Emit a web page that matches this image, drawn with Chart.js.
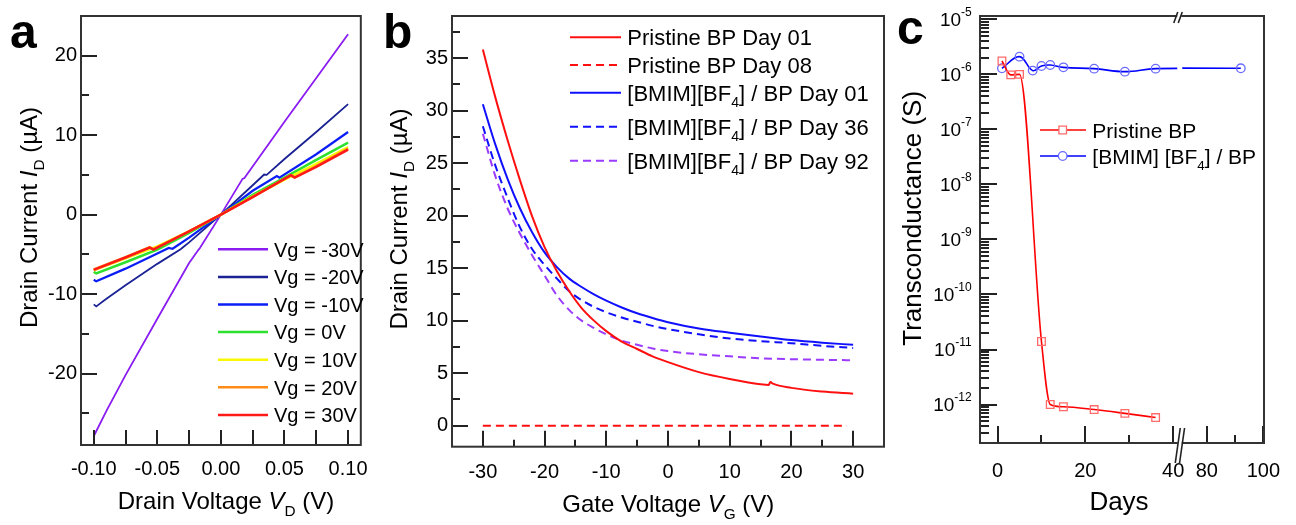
<!DOCTYPE html>
<html>
<head>
<meta charset="utf-8">
<script src="https://cdn.jsdelivr.net/npm/chart.js@4"></script>
<style>
  html, body { margin: 0; background: #fff; }
  #wrap { position: relative; width: 1296px; height: 525px; }
  canvas { position: absolute; top: 0; }
</style>
</head>
<body>
<div id="wrap">
  <canvas id="panel-a" width="380" height="525" style="left:0"></canvas>
  <canvas id="panel-b" width="510" height="525" style="left:380px"></canvas>
  <canvas id="panel-c" width="406" height="525" style="left:890px"></canvas>
</div>
<script>
// ---- (a) output curves: [drain voltage V, drain current uA]
const vgLabels = ['Vg = -30V', 'Vg = -20V', 'Vg = -10V', 'Vg = 0V', 'Vg = 10V', 'Vg = 20V', 'Vg = 30V'];
const idVgM30 = [[-0.1,-27.9],[-0.09,-24.7],[-0.075,-20.2],[-0.05,-13.1],[-0.025,-6.1],[-0.0175,-4.4],[-0.0165,-4.2],[0,0],[0.017,4.5],[0.0185,4.6],[0.05,11.7],[0.075,17.2],[0.1,22.7]];
const idVgM20 = [[-0.1,-11.3],[-0.098,-11.55],[-0.09,-10.6],[-0.075,-8.9],[-0.05,-6.2],[-0.032,-4.4],[-0.0305,-4.2],[-0.025,-3.5],[0,0],[0.025,3.7],[0.034,5.05],[0.036,5.0],[0.05,7.0],[0.075,10.4],[0.1,13.9]];
const idVgM10 = [[-0.1,-8.2],[-0.098,-8.4],[-0.075,-6.8],[-0.05,-4.9],[-0.041,-4.2],[-0.038,-4.3],[-0.025,-2.9],[0,0],[0.025,3.0],[0.044,4.85],[0.046,4.65],[0.075,7.6],[0.1,10.4]];
const idVg0 = [[-0.1,-7.2],[-0.098,-7.4],[-0.075,-6.0],[-0.05,-4.4],[-0.025,-2.3],[0,0],[0.025,2.5],[0.05,4.65],[0.075,6.9],[0.1,9.05]];
const idVg10 = [[-0.1,-7.0],[-0.075,-5.5],[-0.05,-4.0],[-0.025,-2.1],[0,0],[0.025,2.3],[0.05,4.4],[0.075,6.4],[0.1,8.5]];
const idVg20 = [[-0.1,-6.9],[-0.075,-5.35],[-0.056,-4.1],[-0.053,-4.35],[-0.025,-2.1],[0,0],[0.025,2.25],[0.055,4.95],[0.058,4.7],[0.075,6.1],[0.1,8.3]];
const idVg30 = [[-0.1,-6.95],[-0.075,-5.4],[-0.056,-4.15],[-0.053,-4.4],[-0.025,-2.1],[0,0],[0.025,2.2],[0.055,4.95],[0.058,4.65],[0.075,6.0],[0.1,8.17]];
const outputCurves = [idVgM30, idVgM20, idVgM10, idVg0, idVg10, idVg20, idVg30];
const vdTicks = [-0.1, -0.05, 0, 0.05, 0.1];
const idTicksA = [-20, -10, 0, 10, 20];

// ---- (b) transfer curves: gate voltage V, drain current uA
const gateV = [-30,-28,-26,-24,-22,-20,-18,-16,-14,-12,-10,-7.5,-5,-2.5,0,5,10,15,20,25,30];
const bmimDay01 = [30.6,26.8,23.5,20.7,18.4,16.5,15.1,14.0,13.2,12.5,11.9,11.25,10.7,10.25,9.85,9.25,8.85,8.5,8.15,7.9,7.7];
const bmimDay36 = [28.5,24.8,21.7,18.9,16.8,15.3,14.0,12.8,11.95,11.3,10.8,10.3,9.9,9.5,9.2,8.7,8.3,8.05,7.85,7.6,7.4];
const bmimDay92 = [27.8,23.8,20.7,18.3,16.2,14.3,12.4,11.0,10.0,9.3,8.7,8.1,7.7,7.35,7.1,6.8,6.6,6.42,6.33,6.27,6.23];
const pristineDay01 = [[-30,35.8],[-28,31.3],[-26,27.2],[-24,23.4],[-22,19.9],[-20,17.0],[-18,14.7],[-16,12.8],[-14,11.2],[-12,10.0],[-10,9.0],[-7.5,8.0],[-5,7.3],[-2.5,6.6],[0,6.05],[5,5.1],[10,4.45],[16.3,3.88],[16.6,4.15],[17,4.0],[20,3.6],[25,3.25],[30,3.05]];
const pristineDay08 = [[-30,0],[29,0]];
const vgTicksB = [-30, -20, -10, 0, 10, 20, 30];
const idTicksB = [0, 5, 10, 15, 20, 25, 30, 35];
const bLegend = [
  [['Pristine BP Day 01','n']],
  [['Pristine BP Day 08','n']],
  [['[BMIM][BF','n'],['4','sub'],['] / BP Day 01','n']],
  [['[BMIM][BF','n'],['4','sub'],['] / BP Day 36','n']],
  [['[BMIM][BF','n'],['4','sub'],['] / BP Day 92','n']]
];

// ---- (c) transconductance vs days (axis broken between 41.5 and 70.3)
const pristineDays = [1,3,5,10,12,15,22,29,36];
const pristineGm = [1.75e-6,0.98e-6,1.0e-6,1.4e-11,1.0e-12,0.91e-12,0.81e-12,0.69e-12,0.58e-12];
const bmimDays = [1,5,8,10,12,15,22,29,36,92];
const bmimGm = [1.29e-6,2.1e-6,1.17e-6,1.42e-6,1.48e-6,1.34e-6,1.27e-6,1.12e-6,1.27e-6,1.29e-6];
const gmDecades = [-12,-11,-10,-9,-8,-7,-6,-5];
const dayBreak = [41.5, 70.3];
const dayLabelsLow = [0, 20, 40];
const dayLabelsHigh = [80, 100];
const cLegend = [
  [['Pristine BP','n']],
  [['[BMIM] [BF','n'],['4','sub'],['] / BP','n']]
];

// ---- styles
const FONT = '"Liberation Sans", Arial, sans-serif';
const vgColors = ['#8a1cf2','#1a2294','#0a1ef5','#2ee02e','#f8f800','#ff8c19','#ff1a1a'];
const vgWidths = [1.8,1.8,2.2,2.5,2.5,2.5,2.5];
const RED = '#ff1010', BLUE = '#1010ff', PURPLE = '#9b3bff';

Chart.defaults.font.family = FONT;
Chart.defaults.color = '#000';

function rich(ctx, parts, x, y, size, rot, align) {
  ctx.save();
  ctx.translate(x, y);
  if (rot) ctx.rotate(rot);
  const segs = parts.map(([t, k]) => {
    const s = (k === 'sub' || k === 'sup') ? size * 0.64 : size;
    const f = (k === 'i' ? 'italic ' : '') + (k === 'b' ? 'bold ' : '') + s + 'px ' + FONT;
    ctx.font = f;
    return { t, f, w: ctx.measureText(t).width, dy: k === 'sub' ? size * 0.3 : (k === 'sup' ? -size * 0.4 : 0) };
  });
  const total = segs.reduce((acc, s) => acc + s.w, 0);
  let cx = align === 'left' ? 0 : -total / 2;
  ctx.textAlign = 'left';
  ctx.textBaseline = 'alphabetic';
  ctx.fillStyle = '#000';
  for (const s of segs) { ctx.font = s.f; ctx.fillText(s.t, cx, s.dy); cx += s.w; }
  ctx.restore();
}

function seg(ctx, x1, y1, x2, y2) {
  ctx.beginPath(); ctx.moveTo(x1, y1); ctx.lineTo(x2, y2); ctx.stroke();
}

function range(a, b, step) {
  const out = [];
  for (let v = a; v <= b + 1e-9; v += step) out.push(+v.toFixed(6));
  return out;
}

const fixTicks = vals => s => { s.ticks = vals.map(v => ({ value: v })); };

function makeDecor(tickSpec, extra) {
  return {
    id: 'decor',
    afterDraw(chart) {
      const ctx = chart.ctx, a = chart.chartArea;
      ctx.save();
      ctx.strokeStyle = '#222';
      ctx.lineWidth = 2;
      for (const t of tickSpec) {
        const sc = chart.scales[t.scale];
        ctx.beginPath();
        for (const v of t.values) {
          const p = Math.round(sc.getPixelForValue(v));
          if (sc.isHorizontal()) { ctx.moveTo(p, a.bottom); ctx.lineTo(p, a.bottom - t.len); }
          else { ctx.moveTo(a.left, p); ctx.lineTo(a.left + t.len, p); }
        }
        ctx.stroke();
      }
      ctx.strokeStyle = '#333';
      ctx.strokeRect(a.left, a.top, a.right - a.left, a.bottom - a.top);
      ctx.restore();
      if (extra) { ctx.save(); extra(chart, ctx); ctx.restore(); }
    }
  };
}

const common = {
  responsive: false,
  animation: false,
  devicePixelRatio: 1,
  plugins: { legend: { display: false }, tooltip: { enabled: false } }
};
const noGrid = { display: false, drawTicks: false };

// ================= panel a
new Chart(document.getElementById('panel-a'), {
  type: 'line',
  data: {
    datasets: outputCurves.map((d, i) => ({
      label: vgLabels[i], data: d, borderColor: vgColors[i], borderWidth: vgWidths[i],
      pointRadius: 0, tension: 0, order: outputCurves.length - i
    }))
  },
  options: {
    ...common,
    layout: { padding: { top: 13, right: 10, left: 0, bottom: 0 } },
    scales: {
      x: {
        type: 'linear', min: -0.11, max: 0.11,
        grid: noGrid, border: { display: false },
        afterBuildTicks: fixTicks(vdTicks),
        ticks: { autoSkip: false, maxRotation: 0, padding: 12, font: { size: 20 },
                 callback: v => Math.abs(v) < 1e-9 ? '0.00' : v.toFixed(2) },
        afterFit: s => { s.height = 80; }
      },
      y: {
        type: 'linear', min: -29, max: 25,
        grid: noGrid, border: { display: false },
        afterBuildTicks: fixTicks(idTicksA),
        ticks: { autoSkip: false, padding: 4, font: { size: 20 } },
        afterFit: s => { s.width = 81; }
      }
    }
  },
  plugins: [makeDecor([
    { scale: 'x', values: range(-0.1, 0.1, 0.025), len: 15 },
    { scale: 'y', values: idTicksA, len: 16 },
    { scale: 'y', values: [-25,-15,-5,5,15], len: 8 }
  ], (chart, ctx) => {
    vgLabels.forEach((lab, i) => {
      const y = 249.3 + i * 27.6;
      ctx.strokeStyle = vgColors[i];
      ctx.lineWidth = 2.5;
      seg(ctx, 218, y, 268, y);
      rich(ctx, [[lab, 'n']], 274, y + 7.2, 20, 0, 'left');
    });
    rich(ctx, [['a', 'b']], 10, 48, 48, 0, 'left');
    rich(ctx, [['Drain Voltage ', 'n'], ['V', 'i'], ['D', 'sub'], [' (V)', 'n']], 226, 508.5, 24, 0);
    rich(ctx, [['Drain Current ', 'n'], ['I', 'i'], ['D', 'sub'], [' (\u00b5A)', 'n']], 37, 217.5, 24, -Math.PI / 2);
  })]
});

// ================= panel b
const dashed = [8, 5];
new Chart(document.getElementById('panel-b'), {
  type: 'line',
  data: {
    datasets: [
      { label: 'Pristine BP Day 01', data: pristineDay01, borderColor: RED, borderWidth: 2 },
      { label: 'Pristine BP Day 08', data: pristineDay08, borderColor: RED, borderWidth: 2, borderDash: dashed },
      { label: '[BMIM][BF4] / BP Day 01', data: gateV.map((v, i) => [v, bmimDay01[i]]), borderColor: BLUE, borderWidth: 2 },
      { label: '[BMIM][BF4] / BP Day 36', data: gateV.map((v, i) => [v, bmimDay36[i]]), borderColor: BLUE, borderWidth: 2, borderDash: dashed },
      { label: '[BMIM][BF4] / BP Day 92', data: gateV.map((v, i) => [v, bmimDay92[i]]), borderColor: PURPLE, borderWidth: 2, borderDash: dashed }
    ].map(d => ({ ...d, pointRadius: 0, cubicInterpolationMode: 'monotone' }))
  },
  options: {
    ...common,
    layout: { padding: { top: 15, right: 6, left: 0, bottom: 0 } },
    scales: {
      x: {
        type: 'linear', min: -35, max: 35,
        grid: noGrid, border: { display: false },
        afterBuildTicks: fixTicks(vgTicksB),
        ticks: { autoSkip: false, maxRotation: 0, padding: 14, font: { size: 20 } },
        afterFit: s => { s.height = 78.3; }
      },
      y: {
        type: 'linear', min: -2, max: 39,
        grid: noGrid, border: { display: false },
        afterBuildTicks: fixTicks(idTicksB),
        ticks: { autoSkip: false, padding: 4, font: { size: 20 } },
        afterFit: s => { s.width = 72; }
      }
    }
  },
  plugins: [makeDecor([
    { scale: 'x', values: vgTicksB, len: 16 },
    { scale: 'x', values: range(-25, 25, 10), len: 7 },
    { scale: 'y', values: idTicksB, len: 16 },
    { scale: 'y', values: range(2.5, 37.5, 5), len: 8 }
  ], (chart, ctx) => {
    const rows = [37.3, 65, 92.7, 126.7, 160.7];
    const styles = [[RED, []], [RED, dashed], [BLUE, []], [BLUE, dashed], [PURPLE, dashed]];
    bLegend.forEach((parts, i) => {
      ctx.strokeStyle = styles[i][0];
      ctx.setLineDash(styles[i][1]);
      ctx.lineWidth = 2;
      seg(ctx, 190, rows[i], 241, rows[i]);
      ctx.setLineDash([]);
      rich(ctx, parts, 247.3, rows[i] + 8, 22, 0, 'left');
    });
    rich(ctx, [['b', 'b']], 3, 48, 48, 0, 'left');
    rich(ctx, [['Gate Voltage ', 'n'], ['V', 'i'], ['G', 'sub'], [' (V)', 'n']], 288.3, 511.7, 24, 0);
    rich(ctx, [['Drain Current ', 'n'], ['I', 'i'], ['D', 'sub'], [' (\u00b5A)', 'n']], 26.7, 219, 24, -Math.PI / 2);
  })]
});

// ================= panel c
// two full-width x scales with different spans; each dataset is clipped to its side of the break
const segClip = {
  id: 'segClip',
  beforeDatasetDraw(chart, args) {
    const ds = chart.data.datasets[args.index];
    const a = chart.chartArea, ctx = chart.ctx;
    const bx = chart.scales.x.getPixelForValue(dayBreak[0]);
    const l = ds.xAxisID === 'x2' ? bx + 2.5 : a.left - 12;
    const r = ds.xAxisID === 'x2' ? a.right + 12 : bx - 2.5;
    ctx.save();
    ctx.beginPath();
    ctx.rect(l, a.top - 12, r - l, a.bottom - a.top + 24);
    ctx.clip();
  },
  afterDatasetDraw(chart) { chart.ctx.restore(); }
};

const bmimPts = bmimDays.map((d, i) => ({ x: d, y: bmimGm[i] }));
const bmimStyle = {
  label: '[BMIM] [BF4] / BP', data: bmimPts, borderColor: '#0000ff', borderWidth: 1.6,
  pointStyle: 'circle', pointRadius: 4.3, pointBorderColor: '#6a6aff', pointBorderWidth: 1.3,
  pointBackgroundColor: 'rgba(0,0,0,0)', tension: 0.4, clip: false
};
new Chart(document.getElementById('panel-c'), {
  type: 'line',
  data: {
    datasets: [
      { label: 'Pristine BP', data: pristineDays.map((d, i) => ({ x: d, y: pristineGm[i] })), xAxisID: 'x',
        borderColor: '#ff0000', borderWidth: 1.6, pointStyle: 'rect', pointRadius: 5.4,
        pointBorderColor: '#ff6a6a', pointBorderWidth: 1.3, pointBackgroundColor: 'rgba(0,0,0,0)',
        cubicInterpolationMode: 'monotone', clip: false },
      { ...bmimStyle, xAxisID: 'x' },
      { ...bmimStyle, xAxisID: 'x2' }
    ]
  },
  options: {
    ...common,
    layout: { padding: { top: 16, right: 32, left: 0, bottom: 0 } },
    scales: {
      x: {
        type: 'linear', position: 'bottom', min: -4, max: 60.69, offset: false,
        grid: noGrid, border: { display: false },
        afterBuildTicks: fixTicks(dayLabelsLow),
        ticks: { autoSkip: false, maxRotation: 0, padding: 16, font: { size: 20 } },
        afterFit: s => { s.height = 82; }
      },
      x2: {
        type: 'linear', position: 'bottom', display: false, min: -0.15, max: 100.2, offset: false
      },
      y: {
        type: 'logarithmic', min: 2e-13, max: 1.15e-5,
        grid: noGrid, border: { display: false },
        ticks: { display: false },
        afterFit: s => { s.width = 90; }
      }
    }
  },
  plugins: [segClip, makeDecor([
    { scale: 'x', values: dayLabelsLow, len: 17 },
    { scale: 'x', values: [10, 30], len: 8 },
    { scale: 'x2', values: dayLabelsHigh, len: 17 },
    { scale: 'x2', values: [90], len: 8 },
    { scale: 'y', values: gmDecades.map(k => Math.pow(10, k)), len: 17 },
    { scale: 'y', values: [-13,-12,-11,-10,-9,-8,-7,-6].flatMap(k => [2,3,4,5,6,7,8,9].map(m => m * Math.pow(10, k))).filter(v => v >= 2e-13 && v <= 1.15e-5), len: 9 }
  ], (chart, ctx) => {
    const a = chart.chartArea, ys = chart.scales.y, x2 = chart.scales.x2;
    const bx = chart.scales.x.getPixelForValue(dayBreak[0]);
    // axis break marks
    ctx.fillStyle = '#fff';
    ctx.fillRect(bx - 2, a.bottom - 2, 4, 4);
    ctx.fillRect(bx - 2.5, a.top - 2, 4, 4);
    ctx.strokeStyle = '#222';
    ctx.lineWidth = 1.6;
    seg(ctx, bx - 4.5, a.bottom + 20, bx + 0.5, a.bottom - 15);
    seg(ctx, bx - 0.2, a.bottom + 20, bx + 4.8, a.bottom - 15);
    seg(ctx, bx - 6, a.top + 7, bx - 2, a.top - 4);
    seg(ctx, bx - 1.5, a.top + 7, bx + 2.5, a.top - 4);
    // day labels right of the break
    ctx.fillStyle = '#000';
    ctx.font = '20px ' + FONT;
    ctx.textAlign = 'center';
    ctx.textBaseline = 'middle';
    dayLabelsHigh.forEach(v => ctx.fillText(String(v), x2.getPixelForValue(v), a.bottom + 16 + 12));
    // log tick labels 10^k
    const xr = 81.7;
    gmDecades.forEach(k => {
      const p = ys.getPixelForValue(Math.pow(10, k));
      ctx.fillStyle = '#000';
      ctx.textBaseline = 'alphabetic';
      ctx.font = '12px ' + FONT;
      const e = String(k);
      const ew = ctx.measureText(e).width;
      ctx.textAlign = 'left';
      ctx.fillText(e, xr - ew, p - 3.3);
      ctx.font = '19px ' + FONT;
      ctx.textAlign = 'right';
      ctx.fillText('10', xr - ew, p + 6.7);
    });
    // legend
    const rows = [130, 156];
    cLegend.forEach((parts, i) => {
      const y = rows[i];
      ctx.lineWidth = 1.6;
      ctx.strokeStyle = i === 0 ? '#ff0000' : '#0000ff';
      seg(ctx, 150, y, 196, y);
      ctx.lineWidth = 1.3;
      ctx.strokeStyle = i === 0 ? '#ff6a6a' : '#6a6aff';
      ctx.fillStyle = '#fff';
      ctx.beginPath();
      if (i === 0) ctx.rect(172.7 - 3.8, y - 3.8, 7.6, 7.6);
      else ctx.arc(172.7, y, 4.3, 0, Math.PI * 2);
      ctx.fill();
      ctx.stroke();
      rich(ctx, parts, 202.3, y + 7.5, 21, 0, 'left');
    });
    rich(ctx, [['c', 'b']], 7, 44, 48, 0, 'left');
    rich(ctx, [['Days', 'n']], 229, 510, 26, 0);
    rich(ctx, [['Transconductance (S)', 'n']], 31, 218.3, 26, -Math.PI / 2);
  })]
});
</script>
</body>
</html>
